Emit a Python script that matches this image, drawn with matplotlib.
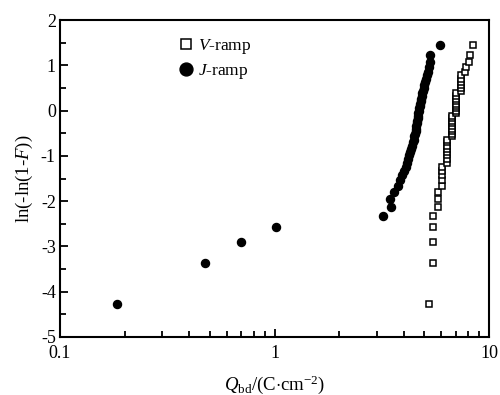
import matplotlib
matplotlib.use('Agg')
import matplotlib.pyplot as plt
from matplotlib.ticker import FixedLocator, FixedFormatter, LogLocator, NullFormatter, MultipleLocator

plt.rcParams['font.family'] = ['Liberation Serif', 'DejaVu Serif']
plt.rcParams['mathtext.fontset'] = 'custom'
plt.rcParams['mathtext.rm'] = 'Liberation Serif'
plt.rcParams['mathtext.it'] = 'Liberation Serif:italic'

# Weibull plotting positions ln(-ln(1-F)) (50 samples each)
weibull_y = [-4.27, -3.37, -2.90, -2.57, -2.32, -2.12, -1.95, -1.80, -1.66, -1.54,
             -1.43, -1.33, -1.24, -1.15, -1.07, -0.99, -0.91, -0.84, -0.77, -0.70,
             -0.64, -0.57, -0.51, -0.45, -0.40, -0.34, -0.28, -0.23, -0.17, -0.12,
             -0.06, -0.01, 0.05, 0.10, 0.15, 0.21, 0.26, 0.32, 0.38, 0.44,
             0.50, 0.56, 0.63, 0.70, 0.78, 0.86, 0.96, 1.07, 1.22, 1.45]

# J-ramp charge to breakdown (C/cm2)
q_jramp = [0.185, 0.473, 0.70, 1.02, 3.19, 3.48, 3.45, 3.62, 3.76, 3.85,
           3.95, 4.03, 4.09, 4.14, 4.19, 4.24, 4.29, 4.34, 4.39, 4.43,
           4.46, 4.49, 4.52, 4.55, 4.57, 4.59, 4.61, 4.63, 4.65, 4.67,
           4.69, 4.71, 4.73, 4.75, 4.77, 4.80, 4.83, 4.86, 4.89, 4.92,
           4.96, 5.00, 5.04, 5.08, 5.13, 5.18, 5.23, 5.28, 5.33, 5.92]

# V-ramp charge to breakdown (C/cm2)
q_vramp = [5.25, 5.48, 5.48, 5.48, 5.48, 5.80, 5.80, 5.80, 6.04, 6.04,
           6.04, 6.04, 6.04, 6.40, 6.40, 6.40, 6.40, 6.40, 6.40, 6.40,
           6.40, 6.70, 6.70, 6.70, 6.70, 6.70, 6.70, 6.70, 6.70, 6.70,
           7.02, 7.02, 7.02, 7.02, 7.02, 7.02, 7.02, 7.02, 7.02, 7.38,
           7.38, 7.38, 7.38, 7.38, 7.38, 7.73, 7.81, 8.10, 8.15, 8.45]

fig = plt.figure(figsize=(5, 3.95), dpi=100)
ax = fig.add_axes([0.12, 0.147, 0.858, 0.802])

ax.plot(q_vramp, weibull_y, 's', ms=4.5, mfc='white', mec='black', mew=1.1,
        label='$V$-ramp')
ax.plot(q_jramp, weibull_y, 'o', ms=5.8, color='black', label='$J$-ramp')

ax.set_xscale('log')
ax.set_xlim(0.1, 10)
ax.set_ylim(-5, 2)

ax.xaxis.set_major_locator(FixedLocator([0.1, 1, 10]))
ax.xaxis.set_major_formatter(FixedFormatter(['0.1', '1', '10']))
ax.xaxis.set_minor_locator(LogLocator(base=10, subs=range(2, 10)))
ax.xaxis.set_minor_formatter(NullFormatter())
ax.yaxis.set_major_locator(MultipleLocator(1))
ax.yaxis.set_minor_locator(MultipleLocator(0.5))
ax.yaxis.set_major_formatter(plt.FuncFormatter(lambda v, p: '%d' % v))

ax.tick_params(which='both', direction='in', top=False, right=False,
               labelsize=13, width=1.3)
ax.tick_params(which='major', length=6)
ax.tick_params(which='minor', length=4)
ax.tick_params(axis='x', which='major', pad=6)
ax.tick_params(axis='y', which='major', pad=3)

for s in ['left', 'bottom', 'top', 'right']:
    ax.spines[s].set_linewidth(1.5)

ax.set_xlabel(r'$Q_{\mathrm{bd}}$/(C$\cdot$cm$^{-2}$)', fontsize=13.5, labelpad=8)
ax.set_ylabel(r'ln(-ln(1-$F$))', fontsize=13.5, labelpad=4)

ax.legend(loc='upper left', bbox_to_anchor=(0.25, 0.985), frameon=False,
          fontsize=12.5, handlelength=0.8, handletextpad=0.25, borderpad=0.2,
          labelspacing=0.35, markerscale=1.6)

plt.savefig('out.png', dpi=100)
